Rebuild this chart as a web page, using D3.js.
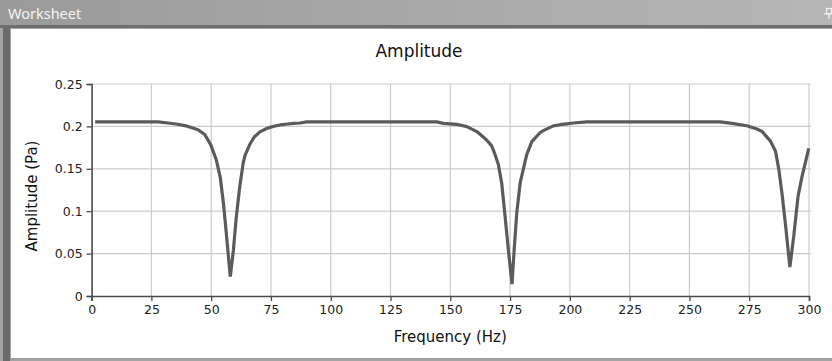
<!DOCTYPE html>
<html>
<head>
<meta charset="utf-8">
<script src="https://cdn.jsdelivr.net/npm/d3@7"></script>
<style>
  html, body { margin: 0; padding: 0; background: #ffffff; }
  svg { display: block; }
</style>
</head>
<body>
<svg id="chart" width="832" height="361"></svg>
<script>
// ---- data ----
const frequencyHz = [
  1.5, 10, 20, 27.8, 32, 36, 40, 44.5, 47.3, 49.8, 52.2, 53.8, 55.1, 56.2, 57.2, 58.0,
  59.3, 60.4, 61.9, 63.4, 64.2, 66.2, 68, 70.4, 73.2, 76, 78.8, 82, 84.4, 87.2, 90,
  100, 120, 144.3, 147.1, 152.7, 156.9, 161.1, 165.2, 167.3, 168.7, 170.1, 171.5, 172.9, 174.3, 175.8,
  176.7, 177.8, 179.2, 181.3, 182, 184.1, 187.5, 188.9, 193.1, 195.9, 198.7, 201.5, 207.1,
  230, 262.8, 267.8, 274, 278.2, 280.4, 281.6, 283.8, 286, 287.4, 288.7, 290.1, 292,
  293.6, 295.4, 297.1, 299.9
];
const amplitudePa = [
  0.2053, 0.2053, 0.2053, 0.2053, 0.2040, 0.2025, 0.2003, 0.1960, 0.1905, 0.1785, 0.160, 0.140, 0.110, 0.078, 0.047, 0.023,
  0.054, 0.090, 0.128, 0.157, 0.166, 0.179, 0.1875, 0.1935, 0.1975, 0.2000, 0.2017, 0.2028, 0.2035, 0.2040, 0.2053,
  0.2053, 0.2053, 0.2053, 0.2035, 0.2025, 0.1998, 0.1939, 0.184, 0.177, 0.167, 0.155, 0.133, 0.094, 0.054, 0.014,
  0.054, 0.098, 0.133, 0.159, 0.167, 0.182, 0.1925, 0.195, 0.2006, 0.202, 0.203, 0.204, 0.2053,
  0.2053, 0.2053, 0.2035, 0.2008, 0.197, 0.194, 0.190, 0.183, 0.1706, 0.149, 0.121, 0.086, 0.034,
  0.070, 0.117, 0.141, 0.174
];
const xTicks = [0, 25, 50, 75, 100, 125, 150, 175, 200, 225, 250, 275, 300];
const yTicks = [0, 0.05, 0.1, 0.15, 0.2, 0.25];
const chartTitle = "Amplitude";
const xTitle = "Frequency (Hz)";
const yTitle = "Amplitude (Pa)";
const windowTitle = "Worksheet";

// ---- drawing ----
const svg = d3.select("#chart");
const W = 832, H = 361;
const FONT = "'DejaVu Sans', Verdana, sans-serif";

// window frame
const defs = svg.append("defs");
const grad = defs.append("linearGradient").attr("id", "bar").attr("x1", 0).attr("x2", 1).attr("y1", 0).attr("y2", 0);
grad.append("stop").attr("offset", "0%").attr("stop-color", "#9a9a9a");
grad.append("stop").attr("offset", "100%").attr("stop-color", "#b6b6b6");

svg.append("rect").attr("x", 0).attr("y", 0).attr("width", W).attr("height", H).attr("fill", "#a4a4a4");
svg.append("rect").attr("x", 0).attr("y", 0).attr("width", W).attr("height", 26).attr("fill", "url(#bar)");
svg.append("rect").attr("x", 0).attr("y", 25).attr("width", W).attr("height", 3).attr("fill", "#6f6f6f");
svg.append("rect").attr("x", 3).attr("y", 28).attr("width", 7).attr("height", H - 28).attr("fill", "#6b6b6b");
svg.append("rect").attr("x", 11).attr("y", 29).attr("width", W - 11).attr("height", 330).attr("fill", "#ffffff");
svg.append("rect").attr("x", 11).attr("y", 358).attr("width", W - 11).attr("height", 1).attr("fill", "#9c9c9c");

svg.append("text").attr("x", 8).attr("y", 18.5)
  .attr("font-family", "'Noto Sans', 'Open Sans', sans-serif").attr("font-size", 14.5)
  .attr("fill", "#f4f4f4").text(windowTitle);

// small pin icon at top right
const pin = svg.append("g").attr("stroke", "#f2f2f2").attr("stroke-width", 1.2).attr("fill", "none");
pin.append("rect").attr("x", 826.5).attr("y", 8.5).attr("width", 5).attr("height", 5);
pin.append("line").attr("x1", 824).attr("x2", 832).attr("y1", 14).attr("y2", 14);
pin.append("line").attr("x1", 829).attr("x2", 829).attr("y1", 14).attr("y2", 19);

// scales
const x = d3.scaleLinear().domain([0, 300]).range([91.6, 809]);
const y = d3.scaleLinear().domain([0, 0.25]).range([296, 84]);

// grid
const grid = svg.append("g").attr("stroke", "#cbcbcb").attr("stroke-width", 1.2);
grid.selectAll("line.v").data(xTicks.filter(d => d > 0)).join("line")
  .attr("x1", d => x(d)).attr("x2", d => x(d)).attr("y1", y(0.25)).attr("y2", y(0));
grid.selectAll("line.h").data(yTicks.filter(d => d > 0)).join("line")
  .attr("x1", x(0)).attr("x2", x(300) + 2).attr("y1", d => y(d)).attr("y2", d => y(d));

// axes
const xAxis = d3.axisBottom(x).tickValues(xTicks).tickFormat(d3.format("d")).tickSizeOuter(0).tickSize(5).tickPadding(4);
const yAxis = d3.axisLeft(y).tickValues(yTicks).tickFormat(d => d === 0 ? "0" : String(d)).tickSizeOuter(0).tickSize(5).tickPadding(4);

const gx = svg.append("g").attr("transform", `translate(0,${y(0)})`).call(xAxis);
const gy = svg.append("g").attr("transform", `translate(${x(0)},0)`).call(yAxis);
[gx, gy].forEach(g => {
  g.select(".domain").attr("stroke", "#4a4a4a").attr("stroke-width", 1.6);
  g.selectAll(".tick line").attr("stroke", "#4a4a4a").attr("stroke-width", 1.3);
  g.selectAll(".tick text").attr("font-family", FONT).attr("font-size", 12.5).attr("fill", "#222");
});

// line
const line = d3.line().x((d, i) => x(frequencyHz[i])).y((d, i) => y(amplitudePa[i])).curve(d3.curveLinear);
svg.append("path").datum(amplitudePa).attr("d", line)
  .attr("fill", "none").attr("stroke", "#5b5b5b").attr("stroke-width", 3.2)
  .attr("stroke-linejoin", "bevel").attr("stroke-linecap", "butt");

// titles
svg.append("text").attr("x", 419).attr("y", 57).attr("text-anchor", "middle")
  .attr("font-family", FONT).attr("font-size", 17).attr("fill", "#111").text(chartTitle);
svg.append("text").attr("x", (x(0) + x(300)) / 2).attr("y", 342).attr("text-anchor", "middle")
  .attr("font-family", FONT).attr("font-size", 15).attr("fill", "#111").text(xTitle);
svg.append("text").attr("transform", `translate(37,${(y(0) + y(0.25)) / 2 + 6}) rotate(-90)`).attr("text-anchor", "middle")
  .attr("font-family", FONT).attr("font-size", 15).attr("fill", "#111").text(yTitle);
</script>
</body>
</html>
